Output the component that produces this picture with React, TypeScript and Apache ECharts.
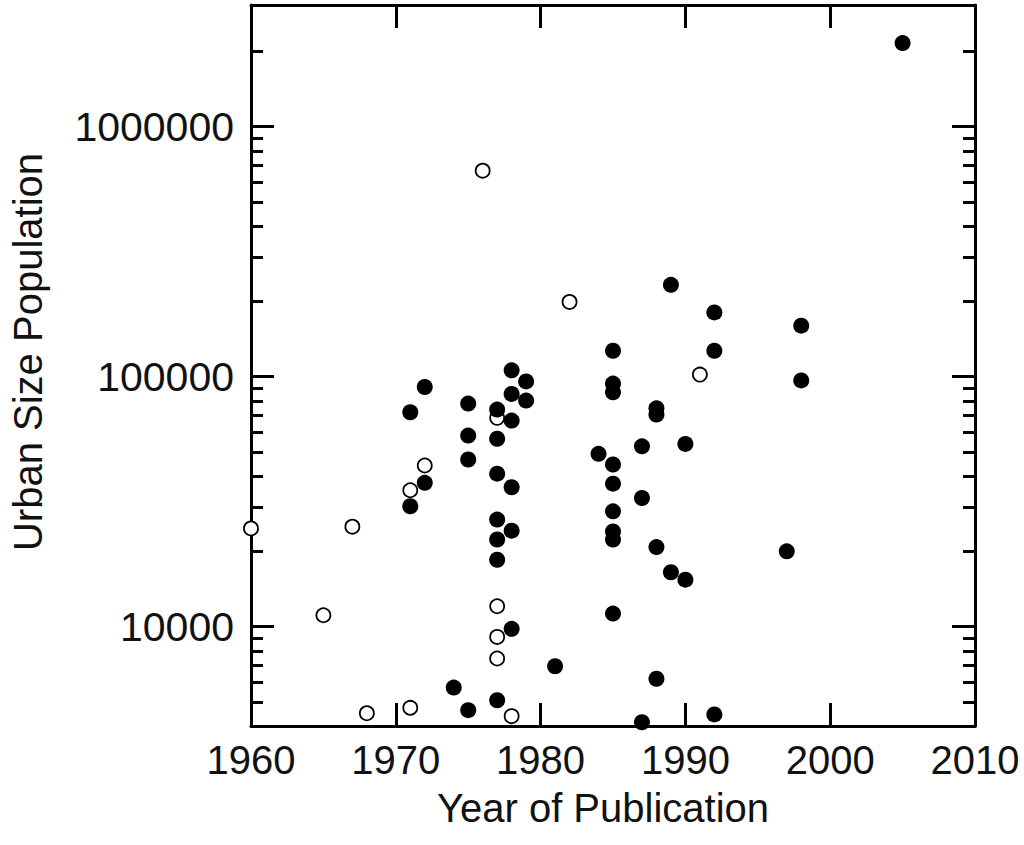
import React, { useEffect, useRef } from "react";
import * as echarts from "echarts";

// Open circles
const openYears = [1960, 1965, 1967, 1968, 1971, 1971, 1972, 1976, 1977, 1977, 1977, 1977, 1978, 1982, 1991];
const openValues = [24700, 11100, 25100, 4500, 4730, 35100, 44100, 667000, 12060, 9090, 7450, 68400, 4380, 199000, 101900];

// Filled circles
const filledYears = [
  1971, 1971, 1972, 1972, 1974, 1975, 1975, 1975, 1975,
  1977, 1977, 1977, 1977, 1977, 1977, 1977,
  1978, 1978, 1978, 1978, 1978, 1978, 1979, 1979,
  1981, 1984, 1985, 1985, 1985, 1985, 1985, 1985, 1985, 1985, 1985,
  1987, 1987, 1987, 1988, 1988, 1988, 1988, 1989, 1989, 1990, 1990,
  1992, 1992, 1992, 1997, 1998, 1998, 2005,
];
const filledValues = [
  72000, 30300, 90900, 37600, 5700, 78000, 58100, 46600, 4630,
  73800, 56400, 40900, 26800, 22300, 18500, 5070,
  106000, 85300, 66700, 36100, 24200, 9790, 95700, 80200,
  6940, 49100, 127000, 93800, 86600, 44500, 37300, 28900, 24000, 22300, 11270,
  52600, 32700, 4140, 74700, 70500, 20800, 6180, 233000, 16500, 53800, 15400,
  180700, 127000, 4450, 20000, 160000, 96600, 2162000,
];

const xMin = 1960;
const xMax = 2010;
const xStep = 10;
const yMin = 4000;
const yMax = 3070000;
const yMajorTicks = [10000, 100000, 1000000];
const yMinorTicks = [
  5000, 6000, 7000, 8000, 9000,
  20000, 30000, 40000, 50000, 60000, 70000, 80000, 90000,
  200000, 300000, 400000, 500000, 600000, 700000, 800000, 900000,
  2000000,
];
const xTitle = "Year of Publication";
const yTitle = "Urban Size Population";

const FONT = "'Liberation Sans', Arial, sans-serif";
const INK = "#111";

export default function App() {
  const ref = useRef<HTMLDivElement>(null);

  useEffect(() => {
    if (!ref.current) return;
    const chart = echarts.init(ref.current, undefined, { renderer: "svg" });

    const lineStyle = { color: "#000", width: 3 };

    const yAxisBase = (position: "left" | "right", major: boolean, showLine: boolean, showLabel: boolean) => ({
      type: "log",
      logBase: 10,
      min: yMin,
      max: yMax,
      position,
      axisLine: { show: showLine, lineStyle },
      splitLine: { show: false },
      minorTick: { show: false },
      axisTick: {
        show: true,
        inside: true,
        length: major ? 23 : 12,
        lineStyle: { color: "#000", width: 3 },
        customValues: major ? yMajorTicks : yMinorTicks,
      },
      axisLabel: {
        show: showLabel,
        customValues: yMajorTicks,
        margin: 17,
        fontSize: 41,
        fontFamily: FONT,
        color: INK,
        formatter: (v: number) => String(Math.round(v)),
      },
    });

    const xAxisBase = (position: "bottom" | "top", showLabel: boolean) => ({
      type: "value",
      min: xMin,
      max: xMax,
      interval: xStep,
      position,
      axisLine: { show: true, lineStyle },
      splitLine: { show: false },
      axisTick: { show: true, inside: true, length: 23, lineStyle: { color: "#000", width: 3 } },
      axisLabel: {
        show: showLabel,
        margin: 14,
        fontSize: 40,
        fontFamily: FONT,
        color: INK,
        formatter: (v: number) => String(Math.round(v)),
      },
    });

    chart.setOption({
      animation: false,
      backgroundColor: "#fff",
      grid: { left: 251, right: 49, top: 5, bottom: 119 },
      xAxis: [xAxisBase("bottom", true), xAxisBase("top", false)],
      yAxis: [
        yAxisBase("left", true, true, true),
        yAxisBase("left", false, false, false),
        yAxisBase("right", true, true, false),
        yAxisBase("right", false, false, false),
      ],
      graphic: [
        {
          type: "text",
          x: 603,
          y: 808,
          style: {
            text: xTitle,
            fontSize: 40,
            fontFamily: FONT,
            fill: INK,
            align: "center",
            verticalAlign: "middle",
          },
        },
        {
          type: "text",
          x: 28,
          y: 352,
          rotation: Math.PI / 2,
          style: {
            text: yTitle,
            fontSize: 40,
            fontFamily: FONT,
            fill: INK,
            align: "center",
            verticalAlign: "middle",
          },
        },
      ],
      series: [
        {
          type: "scatter",
          xAxisIndex: 0,
          yAxisIndex: 0,
          silent: true,
          symbol: "circle",
          symbolSize: 14,
          itemStyle: { color: "#fff", borderColor: "#000", borderWidth: 1.8, opacity: 1 },
          data: openYears.map((y, i) => [y, openValues[i]]),
        },
        {
          type: "scatter",
          xAxisIndex: 0,
          yAxisIndex: 0,
          silent: true,
          symbol: "circle",
          symbolSize: 16,
          itemStyle: { color: "#000", opacity: 1 },
          data: filledYears.map((y, i) => [y, filledValues[i]]),
        },
      ],
    });

    return () => chart.dispose();
  }, []);

  return (
    <div
      ref={ref}
      style={{ position: "fixed", left: 0, top: 0, width: 1024, height: 845, background: "#fff" }}
    />
  );
}
